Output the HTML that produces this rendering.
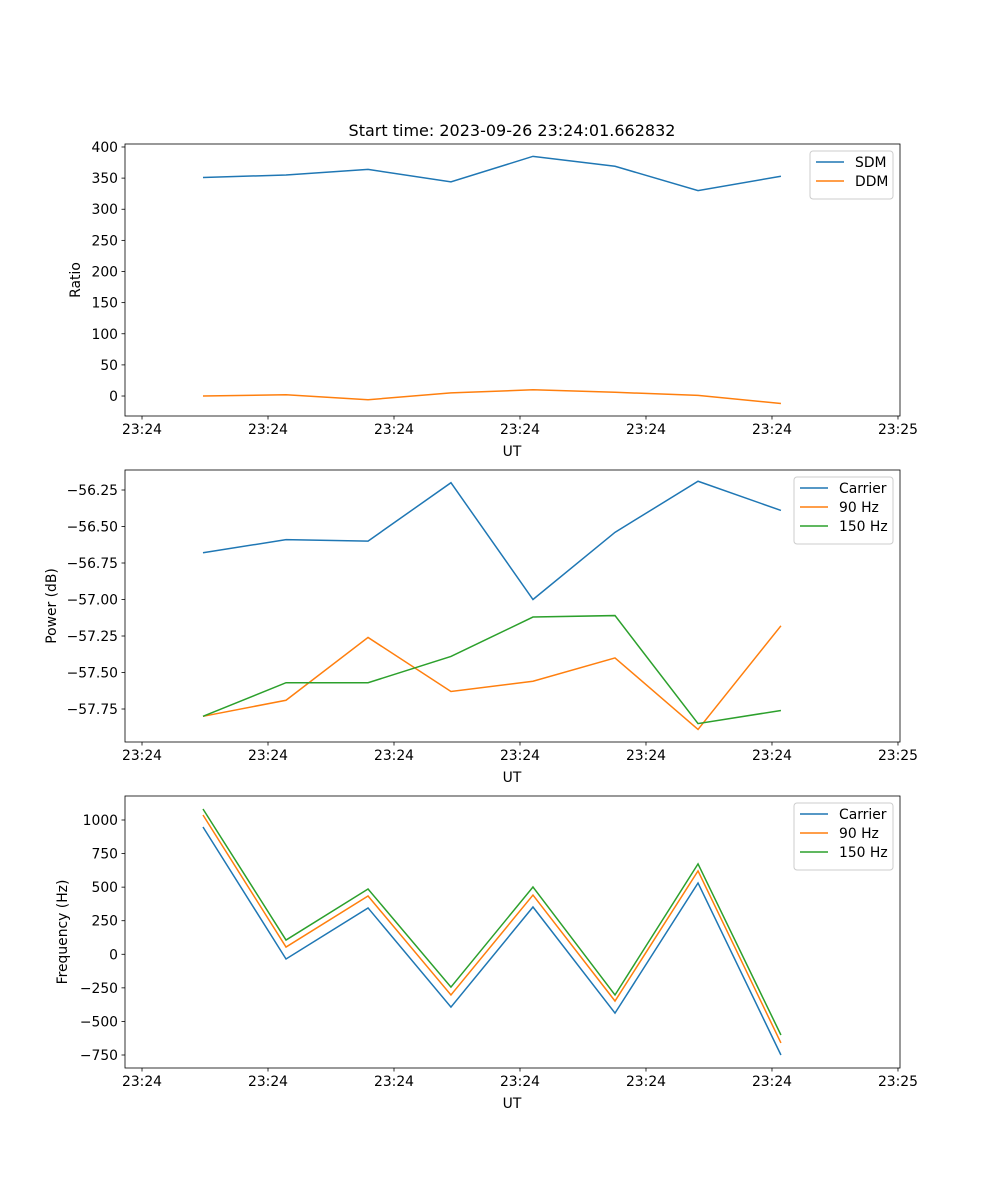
<!DOCTYPE html>
<html><head><meta charset="utf-8"><style>
body{margin:0;background:#fff}
svg{display:block;font-family:"DejaVu Sans","Liberation Sans",sans-serif}
</style></head><body>
<svg id="chart" width="1000" height="1200" viewBox="0 0 1000 1200">
<text x="512" y="136" font-size="16" text-anchor="middle">Start time: 2023-09-26 23:24:01.662832</text>
</svg>
<script>
const times = [0.484, 1.143, 1.794, 2.452, 3.103, 3.754, 4.413, 5.071];
const xTickLabels = ["23:24","23:24","23:24","23:24","23:24","23:24","23:25"];
const sdm = [351, 355, 364, 344, 385, 369, 330, 353];
const ddm = [0, 2, -6, 5, 10, 6, 1, -12];
const powCarrier = [-56.68, -56.59, -56.60, -56.20, -57.00, -56.54, -56.19, -56.39];
const pow90 = [-57.80, -57.69, -57.26, -57.63, -57.56, -57.40, -57.89, -57.18];
const pow150 = [-57.80, -57.57, -57.57, -57.39, -57.12, -57.11, -57.85, -57.76];
const freqCarrier = [948, -35, 345, -393, 352, -438, 531, -750];
const freq90 = [1037, 54, 434, -303, 441, -348, 621, -660];
const freq150 = [1082, 106, 486, -244, 501, -303, 673, -601];
const ratioTicks = [0,50,100,150,200,250,300,350,400];
const powTicks = [-57.75,-57.5,-57.25,-57,-56.75,-56.5,-56.25];
const freqTicks = [-750,-500,-250,0,250,500,750,1000];

const NS="http://www.w3.org/2000/svg";
const svg=document.getElementById('chart');
function el(tag,attrs,parent){const e=document.createElementNS(NS,tag);for(const k in attrs)e.setAttribute(k,attrs[k]);(parent||svg).appendChild(e);return e;}
const X0=125,X1=900,xmin=-0.135,xmax=6.016;
const xs=t=>X0+(t-xmin)/(xmax-xmin)*(X1-X0);
const C=['#1f77b4','#ff7f0e','#2ca02c'];

function panel(name,top,ymin,ymax,ticks,fmt,ylabel,series,names,legW){
  const bot=top+272;
  const ys=v=>bot-(v-ymin)/(ymax-ymin)*272;
  const g=el('g',{});
  
  
  series.forEach((s,i)=>{
    const p=el('polyline',{points:s.map((v,j)=>xs(times[j])+','+ys(v)).join(' '),fill:'none',stroke:C[i],'stroke-width':1.5},g);
    
    
  });
  el('rect',{x:X0,y:top,width:X1-X0,height:272,fill:'none',stroke:'#000','stroke-width':0.8},g);
  xTickLabels.forEach((l,i)=>{
    const x=xs(i);
    el('line',{x1:x,x2:x,y1:bot,y2:bot+3.5,stroke:'#000','stroke-width':0.8},g);
    const t=el('text',{x:x,y:bot+18,'font-size':13.9,'text-anchor':'middle'},g);t.textContent=l;
    
    
  });
  ticks.forEach(v=>{
    const y=ys(v);
    el('line',{x1:X0,x2:X0-3.5,y1:y,y2:y,stroke:'#000','stroke-width':0.8},g);
    const t=el('text',{x:X0-7,y:y+5,'font-size':13.9,'text-anchor':'end'},g);t.textContent=fmt(v);
    
    
  });
  const xl=el('text',{x:512,y:bot+40,'font-size':13.9,'text-anchor':'middle'},g);xl.textContent='UT';
  
  
  const yl=el('text',{x:0,y:0,'font-size':13.9,'text-anchor':'middle',transform:`translate(${ylabel[1]},${top+136}) rotate(-90)`},g);yl.textContent=ylabel[0];
  
  
  const lx=893-legW,ly=top+7,lh=10+19*names.length;
  const lg=el('g',{},g);
  
  
  el('rect',{x:lx,y:ly,width:legW,height:lh,rx:3,fill:'#fff','fill-opacity':0.8,stroke:'#ccc'},lg);
  names.forEach((n,i)=>{
    const yy=ly+11+19*i;
    el('line',{x1:lx+6,x2:lx+34,y1:yy,y2:yy,stroke:C[i],'stroke-width':1.5},lg);
    const t=el('text',{x:lx+45,y:yy+5,'font-size':13.9},lg);t.textContent=n;
    
    
  });
}
panel('ratio',144,-32.1,404.8,ratioTicks,v=>String(v),['Ratio',80],[sdm,ddm],['SDM','DDM'],83);
panel('power',470,-57.976,-56.113,powTicks,v=>v.toFixed(2).replace('-','\u2212'),['Power (dB)',56],[powCarrier,pow90,pow150],['Carrier','90 Hz','150 Hz'],99);
panel('frequency',796,-846.8,1178.7,freqTicks,v=>String(v).replace('-','\u2212'),['Frequency (Hz)',67],[freqCarrier,freq90,freq150],['Carrier','90 Hz','150 Hz'],99);
</script>
</body></html>
